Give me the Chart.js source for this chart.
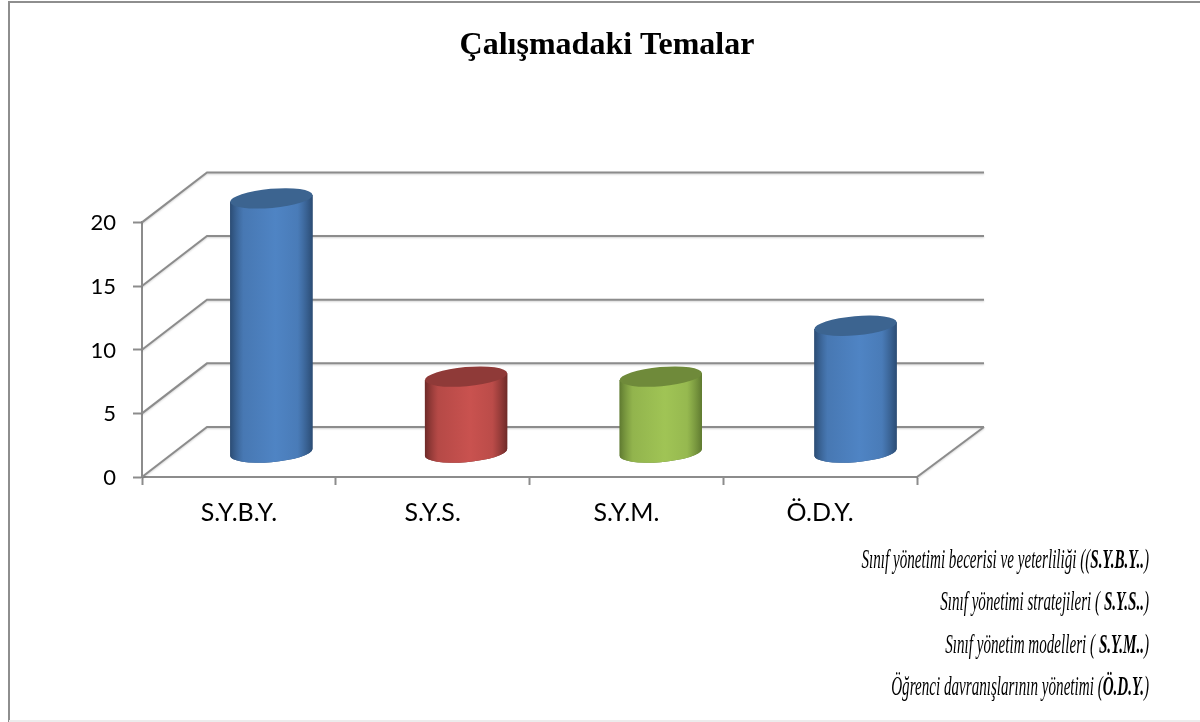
<!DOCTYPE html>
<html>
<head>
<meta charset="utf-8">
<title>Çalışmadaki Temalar</title>
<script src="https://cdn.jsdelivr.net/npm/chart.js@4/dist/chart.umd.min.js"></script>
<style>
    html, body { margin: 0; padding: 0; background: #fff; overflow: hidden; }
    canvas { display: block; }
</style>
</head>
<body>
<canvas id="temaChart" width="1200" height="722"></canvas>
<script>
const chartTitle = "Çalışmadaki Temalar";
const categories = ["S.Y.B.Y.", "S.Y.S.", "S.Y.M.", "Ö.D.Y."];
const values = [20, 6, 6, 10];
const yTicks = [0, 5, 10, 15, 20];

// [plain part, bold part, closing part]
const noteLines = [
    ["Sınıf yönetimi becerisi ve yeterliliği ((", "S.Y.B.Y..", ")"],
    ["Sınıf yönetimi stratejileri ( ", "S.Y.S..", ")"],
    ["Sınıf yönetim modelleri ( ", "S.Y.M..", ")"],
    ["Öğrenci davranışlarının yönetimi (", "Ö.D.Y.", ")"]
];

const barColors = ["#4f84c4", "#c9524f", "#a0c455", "#4f84c4"];
const barEdges = ["#2b4c74", "#6e2a28", "#5f7a30", "#2b4c74"];
const barTops = ["#3c6490", "#8f3a38", "#6f8a3a", "#3c6490"];

const lineColor = "#8c8c8c";
const wallDx = 65, wallDy = 50;   // depth of the 3D walls
const colDx = 32, colDy = 24;     // columns stand in the middle of the floor
const colSpread = 0.005;          // columns drift right a little, same as the original's perspective

const threeDPlugin = {
    id: "threeD",
    afterLayout(chart) {
        // title sits off-centre in the original, centred around x=607
        chart.titleBlock.left = 297;
        chart.titleBlock.right = 917;
    },
    beforeDraw(chart) {
        const { ctx, width } = chart;
        ctx.save();
        ctx.strokeStyle = "#8e8e8e";
        ctx.lineWidth = 2;
        ctx.beginPath();
        ctx.moveTo(width, 2);
        ctx.lineTo(9, 2);
        ctx.lineTo(9, 722);
        ctx.stroke();
        ctx.strokeStyle = "#ececec";
        ctx.beginPath();
        ctx.moveTo(9, 721);
        ctx.lineTo(width, 721);
        ctx.stroke();
        ctx.restore();
    },
    beforeDatasetsDraw(chart) {
        const { ctx, chartArea, scales } = chart;
        const left = chartArea.left, right = chartArea.right;
        ctx.save();
        ctx.strokeStyle = lineColor;
        ctx.lineWidth = 2;
        ctx.shadowColor = "rgba(0,0,0,0.18)";
        ctx.shadowBlur = 2;
        ctx.shadowOffsetY = 1;
        ctx.beginPath();
        yTicks.forEach(v => {
            const y = scales.y.getPixelForValue(v);
            ctx.moveTo(left, y);
            ctx.lineTo(left + wallDx, y - wallDy);
            ctx.lineTo(right + wallDx + 2, y - wallDy);
        });
        const y0 = scales.y.getPixelForValue(0);
        ctx.moveTo(right, y0);
        ctx.lineTo(right + wallDx + 2, y0 - wallDy);
        ctx.stroke();
        ctx.restore();
    },
    beforeDatasetDraw(chart, args) {
        const ctx = chart.ctx;
        const left = chart.chartArea.left;
        args.meta.data.forEach((bar, i) => {
            const cx = bar.x + colDx + (bar.x - left) * colSpread;
            drawCylinder(ctx, cx, bar.y - colDy, bar.base - colDy, bar.width / 2, i);
        });
        return false; // cylinders replace the flat bars
    },
    afterDraw(chart) {
        const ctx = chart.ctx;
        const noteY = [561, 603, 646, 688];
        noteLines.forEach((parts, i) => {
            ctx.save();
            ctx.translate(1149, noteY[i]);
            ctx.scale(0.56, 1);
            ctx.textAlign = "right";
            ctx.textBaseline = "middle";
            ctx.fillStyle = "#000";
            let x = 0;
            [2, 1, 0].forEach(p => {
                ctx.font = (p === 1 ? "italic bold " : "italic ") + "27px 'Liberation Serif'";
                ctx.fillText(parts[p], x, 0);
                x -= ctx.measureText(parts[p]).width;
            });
            ctx.restore();
        });
    }
};

function drawCylinder(ctx, cx, topY, baseY, halfW, i) {
    const tilt = -5 * Math.PI / 180;
    const ry = 9.6;
    const rx = halfW + 0.1;
    const lean = 3.4; // the ellipse is tilted, so the sides start at different heights
    const t0 = Math.atan(-(ry / rx) * Math.tan(tilt)); // angle where the ellipse meets the right side

    const grad = ctx.createLinearGradient(cx - halfW, 0, cx + halfW, 0);
    grad.addColorStop(0, barEdges[i]);
    grad.addColorStop(0.16, barColors[i] + "c8");
    grad.addColorStop(0.55, barColors[i]);
    grad.addColorStop(0.82, barColors[i] + "d8");
    grad.addColorStop(1, barEdges[i]);

    ctx.save();
    ctx.beginPath();
    ctx.moveTo(cx + halfW, topY - lean);
    ctx.ellipse(cx, baseY, rx, ry, tilt, t0, t0 + Math.PI);
    ctx.lineTo(cx - halfW, topY + lean);
    ctx.closePath();
    ctx.fillStyle = barEdges[i];
    ctx.fill();
    ctx.fillStyle = grad;
    ctx.fill();

    ctx.beginPath();
    ctx.ellipse(cx, topY, rx, ry, tilt, 0, Math.PI * 2);
    ctx.fillStyle = barTops[i];
    ctx.fill();
    ctx.restore();
}

new Chart(document.getElementById("temaChart"), {
    type: "bar",
    data: {
        labels: categories,
        datasets: [{
            data: values,
            backgroundColor: barColors,
            barPercentage: 0.425,
            categoryPercentage: 1
        }]
    },
    plugins: [threeDPlugin],
    options: {
        responsive: false,
        animation: false,
        layout: { padding: { left: 0, right: 283, top: 27, bottom: 200 } },
        plugins: {
            legend: { display: false },
            tooltip: { enabled: false },
            title: {
                display: true,
                text: chartTitle,
                color: "#000",
                font: { family: "'Liberation Serif'", size: 32, weight: "bold" },
                padding: { top: 0, bottom: 157 }
            }
        },
        scales: {
            x: {
                afterFit(s) { s.height = 45; },
                border: { color: lineColor, width: 2 },
                grid: { drawOnChartArea: false, tickLength: 8, tickColor: lineColor, tickWidth: 2 },
                ticks: { color: "#000", padding: 13, font: { family: "Lato", size: 25 } }
            },
            y: {
                min: 0,
                max: 20,
                afterFit(s) { s.width = 142; },
                afterBuildTicks(s) { s.ticks = yTicks.map(v => ({ value: v })); },
                border: { color: lineColor, width: 2 },
                grid: { drawOnChartArea: false, tickLength: 9, tickColor: lineColor, tickWidth: 2 },
                ticks: { color: "#000", padding: 17, labelOffset: 1, font: { family: "Lato", size: 22 } }
            }
        }
    }
});
</script>
</body>
</html>
